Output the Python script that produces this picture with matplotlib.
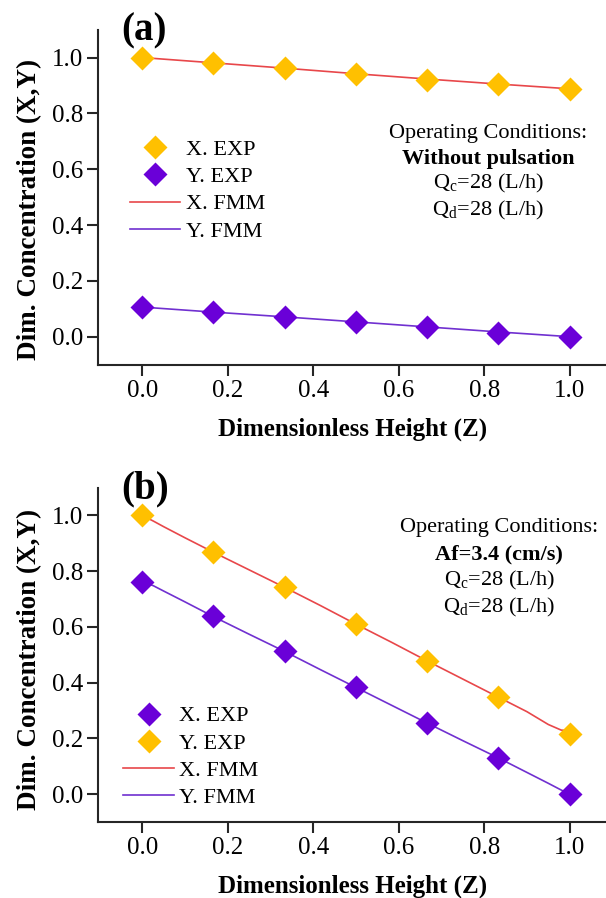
import numpy as np
import matplotlib
matplotlib.use("Agg")
import matplotlib.pyplot as plt
from matplotlib.lines import Line2D

plt.rcParams['font.family'] = ['Liberation Serif', 'DejaVu Serif']
plt.rcParams['mathtext.fontset'] = 'custom'
plt.rcParams['mathtext.rm'] = 'Liberation Serif'

# dimensionless height of the experimental points
z_exp = [0.0, 0.1667, 0.3333, 0.5, 0.6667, 0.8333, 1.0]

# (a) without pulsation
a_x_exp = [1.0, 0.979, 0.961, 0.940, 0.921, 0.904, 0.886]
a_y_exp = [0.108, 0.087, 0.072, 0.052, 0.033, 0.014, 0.0]
a_z_fmm = [0.0, 0.1667, 0.3333, 0.5, 0.6667, 0.8333, 1.0]
a_x_fmm = [1.0, 0.981, 0.962, 0.942, 0.923, 0.905, 0.888]
a_y_fmm = [0.106, 0.088, 0.071, 0.053, 0.035, 0.017, 0.0]

# (b) Af = 3.4 cm/s
b_x_exp = [0.762, 0.638, 0.512, 0.383, 0.255, 0.130, 0.0]
b_y_exp = [1.0, 0.870, 0.742, 0.610, 0.477, 0.350, 0.215]
b_z_fmm = [0.0, 0.026, 0.05, 0.1, 0.1667, 0.25, 0.3333, 0.4167, 0.5,
           0.5833, 0.6667, 0.75, 0.8333, 0.9, 0.95, 0.98, 1.0]
b_x_fmm = [1.0, 0.980, 0.960, 0.920, 0.868, 0.805, 0.742, 0.677, 0.610,
           0.545, 0.478, 0.413, 0.348, 0.296, 0.250, 0.230, 0.227]
b_y_fmm = [0.762, 0.748, 0.729, 0.690, 0.637, 0.574, 0.512, 0.447, 0.383,
           0.319, 0.255, 0.192, 0.130, 0.078, 0.039, 0.015, 0.0]

x_ticks = [0.0, 0.2, 0.4, 0.6, 0.8, 1.0]
y_ticks = [0.0, 0.2, 0.4, 0.6, 0.8, 1.0]

yellow = '#FFC000'
purple = '#6A00D8'
red_line = '#E8474A'
purple_line = '#7030D0'
spine_col = '#262626'

fig = plt.figure(figsize=(6.06, 8.98), dpi=100)
ax_a = fig.add_axes([0.162, 0.594, 0.838, 0.373])
ax_b = fig.add_axes([0.162, 0.0846, 0.838, 0.3724])


def style(ax, xpad, ylab_y):
    ax.set_xlim(-0.103, 1.085)
    ax.set_ylim(-0.1, 1.1)
    ax.set_xticks(x_ticks)
    ax.set_yticks(y_ticks)
    ax.set_xticklabels([f'{v:.1f}' for v in x_ticks])
    ax.set_yticklabels([f'{v:.1f}' for v in y_ticks])
    ax.tick_params(axis='both', direction='out', length=8, width=1.5,
                   labelsize=18, color=spine_col, pad=3)
    for s in ['top', 'right']:
        ax.spines[s].set_visible(False)
    for s in ['left', 'bottom']:
        ax.spines[s].set_linewidth(1.5)
        ax.spines[s].set_color(spine_col)
    ax.set_xlabel('Dimensionless Height (Z)', fontsize=18, fontweight='bold',
                  labelpad=xpad)
    ax.set_ylabel('Dim. Concentration (X,Y)', fontsize=19.5, fontweight='bold')
    ax.yaxis.set_label_coords(-0.11, ylab_y)


ms = 12
leg_kw = dict(frameon=False, fontsize=16, loc='upper left',
              handlelength=2.27, handletextpad=0.25, labelspacing=0.3,
              borderaxespad=0.0)

# panel (a)
ax_a.plot(a_z_fmm, a_x_fmm, color=red_line, lw=1.2, zorder=2)
ax_a.plot(a_z_fmm, a_y_fmm, color=purple_line, lw=1.2, zorder=2)
ax_a.plot(z_exp, a_x_exp, 'D', color=yellow, ms=ms, mec='none', zorder=3)
ax_a.plot(z_exp, a_y_exp, 'D', color=purple, ms=ms, mec='none', zorder=3)
style(ax_a, 11, 0.463)
h_a = [Line2D([], [], marker='D', ls='none', color=yellow, ms=ms, mec='none'),
       Line2D([], [], marker='D', ls='none', color=purple, ms=ms, mec='none'),
       Line2D([], [], color=red_line, lw=1.2),
       Line2D([], [], color=purple_line, lw=1.2)]
ax_a.legend(h_a, ['X. EXP', 'Y. EXP', 'X. FMM', 'Y. FMM'],
            bbox_to_anchor=(0.045, 0.699), **leg_kw)
cx = 0.768
ax_a.text(cx, 0.690, 'Operating Conditions:', transform=ax_a.transAxes,
          ha='center', va='center', fontsize=16)
ax_a.text(cx, 0.615, 'Without pulsation', transform=ax_a.transAxes,
          ha='center', va='center', fontsize=16, fontweight='bold')
ax_a.text(cx, 0.540, r'Q$_\mathregular{c}$=28 (L/h)', transform=ax_a.transAxes,
          ha='center', va='center', fontsize=16)
ax_a.text(cx, 0.460, r'Q$_\mathregular{d}$=28 (L/h)', transform=ax_a.transAxes,
          ha='center', va='center', fontsize=16)
ax_a.text(0.045, 0.995, '(a)', transform=ax_a.transAxes, ha='left',
          va='center', fontsize=28, fontweight='bold')

# panel (b)
ax_b.plot(b_z_fmm, b_x_fmm, color=red_line, lw=1.2, zorder=2)
ax_b.plot(b_z_fmm, b_y_fmm, color=purple_line, lw=1.2, zorder=2)
ax_b.plot(z_exp, b_y_exp, 'D', color=yellow, ms=ms, mec='none', zorder=3)
ax_b.plot(z_exp, b_x_exp, 'D', color=purple, ms=ms, mec='none', zorder=3)
style(ax_b, 11, 0.485)
h_b = [Line2D([], [], marker='D', ls='none', color=purple, ms=ms, mec='none'),
       Line2D([], [], marker='D', ls='none', color=yellow, ms=ms, mec='none'),
       Line2D([], [], color=red_line, lw=1.2),
       Line2D([], [], color=purple_line, lw=1.2)]
ax_b.legend(h_b, ['X. EXP', 'Y. EXP', 'X. FMM', 'Y. FMM'],
            bbox_to_anchor=(0.032, 0.374), **leg_kw)
cx = 0.79
ax_b.text(cx, 0.881, 'Operating Conditions:', transform=ax_b.transAxes,
          ha='center', va='center', fontsize=16)
ax_b.text(cx, 0.799, 'Af=3.4 (cm/s)', transform=ax_b.transAxes,
          ha='center', va='center', fontsize=16, fontweight='bold')
ax_b.text(cx, 0.721, r'Q$_\mathregular{c}$=28 (L/h)', transform=ax_b.transAxes,
          ha='center', va='center', fontsize=16)
ax_b.text(cx, 0.642, r'Q$_\mathregular{d}$=28 (L/h)', transform=ax_b.transAxes,
          ha='center', va='center', fontsize=16)
ax_b.text(0.045, 0.997, '(b)', transform=ax_b.transAxes, ha='left',
          va='center', fontsize=28, fontweight='bold')

fig.savefig('out.png', dpi=100)
